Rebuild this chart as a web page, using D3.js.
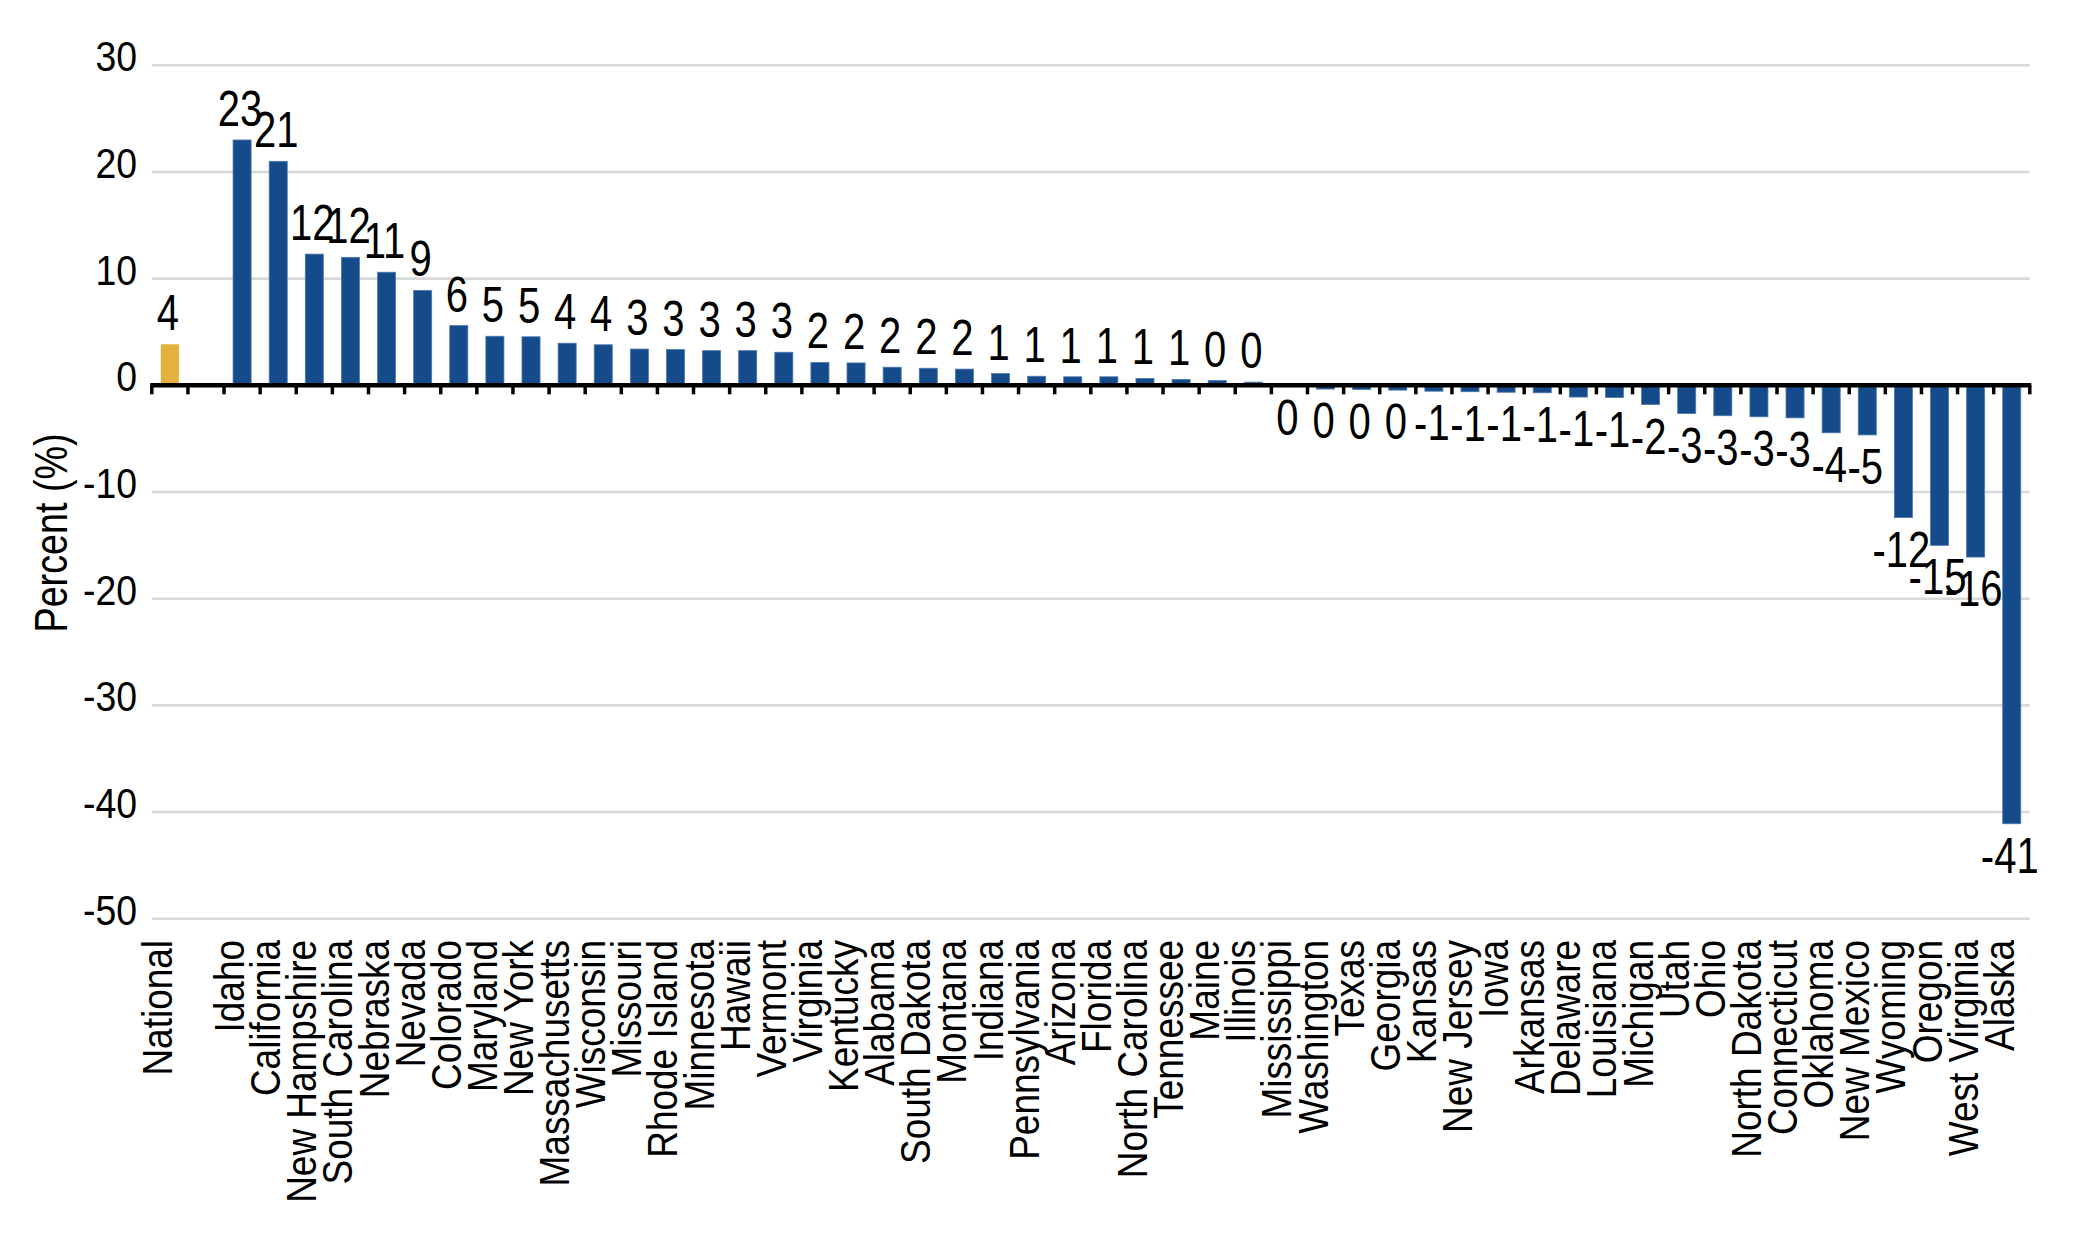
<!DOCTYPE html>
<html>
<head>
<meta charset="utf-8">
<script src="https://cdn.jsdelivr.net/npm/d3@7/dist/d3.min.js"></script>
<style>
  html, body { margin: 0; padding: 0; background: #ffffff; }
  svg { display: block; }
  text { font-family: "Liberation Sans", Arial, sans-serif; fill: #000; }
</style>
</head>
<body>
<svg id="chart" width="2084" height="1250"></svg>
<script>
// ---------------- data ----------------
const categories = [
  "National", "",
  "Idaho", "California", "New Hampshire", "South Carolina", "Nebraska", "Nevada", "Colorado",
  "Maryland", "New York", "Massachusetts", "Wisconsin", "Missouri", "Rhode Island", "Minnesota",
  "Hawaii", "Vermont", "Virginia", "Kentucky", "Alabama", "South Dakota", "Montana", "Indiana",
  "Pennsylvania", "Arizona", "Florida", "North Carolina", "Tennessee", "Maine", "Illinois",
  "Mississippi", "Washington", "Texas", "Georgia", "Kansas", "New Jersey", "Iowa", "Arkansas",
  "Delaware", "Louisiana", "Michigan", "Utah", "Ohio", "North Dakota", "Connecticut", "Oklahoma",
  "New Mexico", "Wyoming", "Oregon", "West Virginia", "Alaska"
];
const values = [
  3.85, null,
  23.0, 21.0, 12.3, 12.0, 10.6, 8.9, 5.6,
  4.6, 4.55, 3.95, 3.8, 3.4, 3.35, 3.25,
  3.25, 3.1, 2.15, 2.1, 1.7, 1.6, 1.52, 1.1,
  0.85, 0.8, 0.8, 0.65, 0.55, 0.45, 0.3,
  -0.1, -0.35, -0.4, -0.45, -0.55, -0.6, -0.65, -0.7,
  -1.1, -1.15, -1.8, -2.65, -2.85, -2.95, -3.05, -4.45,
  -4.65, -12.4, -15.0, -16.1, -41.1
];
const highlightCategories = ["National"];
const yTicks = [-50, -40, -30, -20, -10, 0, 10, 20, 30];
const yTitle = "Percent (%)";

// ---------------- layout ----------------
const W = 2084, H = 1250;
const plot = { left: 151.8, right: 2029.8, top: 65.3, bottom: 918.7 };
const colors = { bar: "#154b8b", barEdge: "#4f78ad", highlight: "#e3b23c", grid: "#d9d9d9", axis: "#000000" };

const svg = d3.select("#chart");
svg.append("rect").attr("width", W).attr("height", H).attr("fill", "#fff");

const x = d3.scaleBand()
  .domain(categories)
  .range([plot.left, plot.right])
  .paddingInner(0.5)
  .paddingOuter(0.25);

const y = d3.scaleLinear()
  .domain([d3.min(yTicks), d3.max(yTicks)])
  .range([plot.bottom, plot.top]);

const data = categories.map((c, i) => ({ cat: c, value: values[i] }));

// gridlines (not at zero)
svg.append("g").selectAll("line")
  .data(yTicks.filter(t => t !== 0))
  .join("line")
  .attr("x1", plot.left).attr("x2", plot.right)
  .attr("y1", d => y(d)).attr("y2", d => y(d))
  .attr("stroke", colors.grid).attr("stroke-width", 2.6);

// y tick labels (condensed)
svg.append("g").selectAll("text")
  .data(yTicks)
  .join("text")
  .attr("transform", d => `translate(137,${y(d) + 6}) scale(0.89,1)`)
  .attr("text-anchor", "end")
  .attr("font-size", 42)
  .text(d => d);

// y title
svg.append("text")
  .attr("transform", `translate(66.5,533) rotate(-90) scale(0.82,1)`)
  .attr("text-anchor", "middle")
  .attr("font-size", 46)
  .text(yTitle);

// bars
const barData = data.filter(d => d.value !== null);
svg.append("g").selectAll("rect")
  .data(barData)
  .join("rect")
  .attr("x", d => x(d.cat))
  .attr("width", x.bandwidth())
  .attr("y", d => y(Math.max(0, d.value)))
  .attr("height", d => Math.abs(y(d.value) - y(0)))
  .attr("fill", d => highlightCategories.includes(d.cat) ? colors.highlight : colors.bar)
  .attr("stroke", d => highlightCategories.includes(d.cat) ? "none" : colors.barEdge)
  .attr("stroke-width", 0.8);

// value labels (condensed)
svg.append("g").selectAll("text")
  .data(barData)
  .join("text")
  .attr("transform", d => {
    const cx = x(d.cat) + x.bandwidth() / 2 - 2;
    const ty = d.value >= 0 ? y(d.value) - 14 : y(d.value) + 49;
    return `translate(${cx},${ty}) scale(0.8,1)`;
  })
  .attr("text-anchor", "middle")
  .attr("font-size", 50)
  .text(d => String(Math.round(d.value)).replace("-0", "0"));

// x axis line and ticks at band boundaries
const step = x.step();
const offset = (step - x.bandwidth()) / 2;
const boundaries = categories.map(c => x(c) - offset).concat([x(categories[categories.length - 1]) - offset + step]);
const axisG = svg.append("g");
axisG.selectAll("line.tick")
  .data(boundaries)
  .join("line")
  .attr("class", "tick")
  .attr("x1", d => d).attr("x2", d => d)
  .attr("y1", y(0)).attr("y2", y(0) + 9)
  .attr("stroke", colors.axis).attr("stroke-width", 3.5);
axisG.append("line")
  .attr("x1", plot.left - 1.5).attr("x2", plot.right + 1.5)
  .attr("y1", y(0)).attr("y2", y(0))
  .attr("stroke", colors.axis).attr("stroke-width", 4.5);

// x labels, rotated and condensed
svg.append("g").selectAll("text")
  .data(categories.filter(c => c !== ""))
  .join("text")
  .attr("transform", c => `translate(${x(c) + x.bandwidth() / 2 + 2},940) rotate(-90) scale(0.88,1)`)
  .attr("text-anchor", "end")
  .attr("font-size", 42)
  .text(c => c);
</script>
</body>
</html>
